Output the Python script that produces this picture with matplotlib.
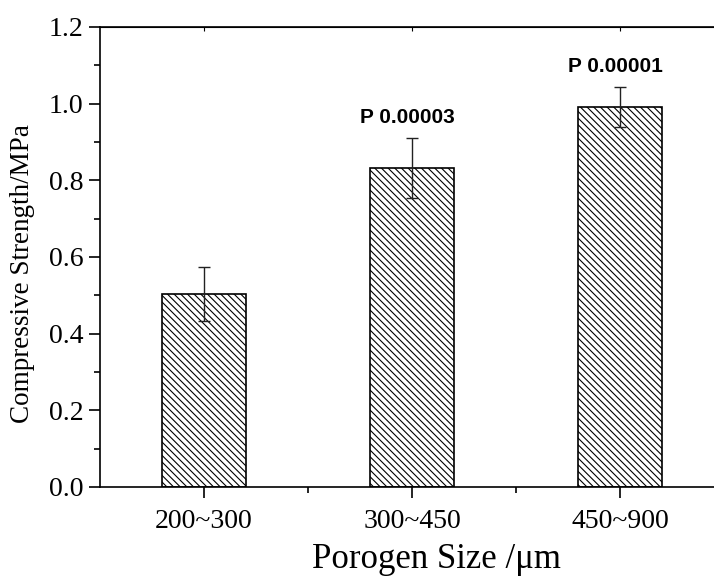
import matplotlib
matplotlib.use("Agg")
import matplotlib.pyplot as plt
from matplotlib.ticker import MultipleLocator, FixedLocator

# compressive strength per porogen size group
sizes = ["200~300", "300~450", "450~900"]
strength = [0.503, 0.833, 0.992]
strength_err = [0.071, 0.078, 0.052]
p_labels = ["", "P 0.00003", "P 0.00001"]

plt.rcParams["font.family"] = ["Liberation Serif", "DejaVu Serif"]
plt.rcParams["hatch.linewidth"] = 0.8
plt.rcParams["hatch.color"] = "black"

fig = plt.figure(figsize=(7.14, 5.77), dpi=100)
# frame runs a little past the right edge of the figure
ax = fig.add_axes([100 / 714, 90 / 577, 624 / 714, 460 / 577])

x = list(range(len(sizes)))
ax.bar(x, strength, width=0.4, color="white", edgecolor="black",
       linewidth=1.2, hatch="\\\\\\\\\\", zorder=2)
ax.errorbar(x, strength, yerr=strength_err, fmt="none", ecolor="#222222",
            elinewidth=1.0, capsize=4.5, capthick=1.0, zorder=3)

for xi, yi, ei, lab in zip(x, strength, strength_err, p_labels):
    if lab:
        ax.annotate(lab, (xi, yi + ei), xytext=(-3, 8), textcoords="offset points",
                    ha="center", va="bottom", fontsize=15, fontweight="bold",
                    family="Liberation Sans")

ax.set_xlim(-0.5, 2.5)
ax.set_ylim(0, 1.2)
ax.set_xticks(x)
ax.set_xticklabels(sizes)
ax.xaxis.set_minor_locator(FixedLocator([0.5, 1.5]))
ax.yaxis.set_major_locator(MultipleLocator(0.2))
ax.yaxis.set_minor_locator(MultipleLocator(0.1))
ax.yaxis.set_major_formatter(plt.FormatStrFormatter("%.1f"))

ax.tick_params(axis="both", which="major", direction="out", length=8,
               width=1.2, labelsize=20)
ax.tick_params(axis="both", which="minor", direction="out", length=4, width=1.2)
ax.tick_params(axis="x", which="major", pad=8)
ax.tick_params(axis="y", which="major", pad=4)

# tiny marks on the top frame at each group
ax_top = ax.secondary_xaxis("top")
ax_top.set_xticks(x)
ax_top.set_xticklabels([])
ax_top.tick_params(direction="in", length=3, width=0.8)

for side in ["left", "bottom", "top", "right"]:
    ax.spines[side].set_linewidth(1.2)

fig.text(23 / 714, (577 - 273.5) / 577, "Compressive Strength/MPa",
         rotation=90, ha="center", va="center", fontsize=19.5)
fig.text(436 / 714, (577 - 568) / 577, "Porogen Size /\u03bcm",
         ha="center", va="baseline", fontsize=25)

fig.savefig("out.png", dpi=100)
